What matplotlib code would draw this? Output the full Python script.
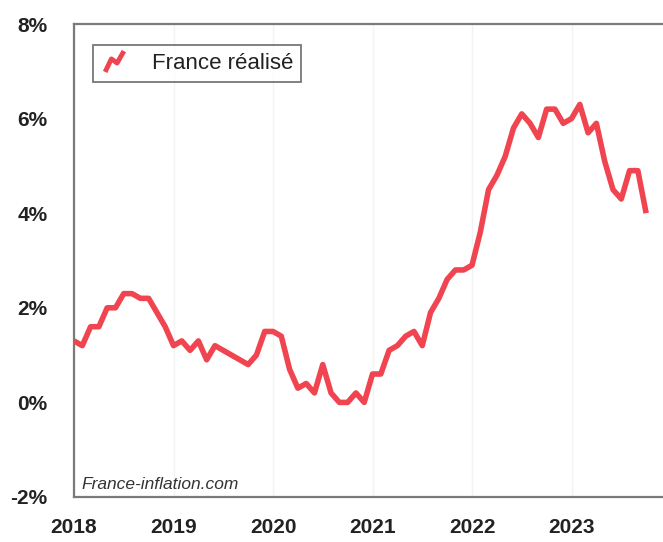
import numpy as np
import matplotlib
matplotlib.use("Agg")
import matplotlib.pyplot as plt
from matplotlib.path import Path
from matplotlib.lines import Line2D

# monthly year-on-year inflation, France, Jan 2018 -> Oct 2023
infl_2018 = [1.3, 1.2, 1.6, 1.6, 2.0, 2.0, 2.3, 2.3, 2.2, 2.2, 1.9, 1.6]
infl_2019 = [1.2, 1.3, 1.1, 1.3, 0.9, 1.2, 1.1, 1.0, 0.9, 0.8, 1.0, 1.5]
infl_2020 = [1.5, 1.4, 0.7, 0.3, 0.4, 0.2, 0.8, 0.2, 0.0, 0.0, 0.2, 0.0]
infl_2021 = [0.6, 0.6, 1.1, 1.2, 1.4, 1.5, 1.2, 1.9, 2.2, 2.6, 2.8, 2.8]
infl_2022 = [2.9, 3.6, 4.5, 4.8, 5.2, 5.8, 6.1, 5.9, 5.6, 6.2, 6.2, 5.9]
infl_2023 = [6.0, 6.3, 5.7, 5.9, 5.1, 4.5, 4.3, 4.9, 4.9, 4.0]

values = infl_2018 + infl_2019 + infl_2020 + infl_2021 + infl_2022 + infl_2023
dates = 2018 + np.arange(len(values)) / 12.0

years = [2018, 2019, 2020, 2021, 2022, 2023]
yticks = [-2, 0, 2, 4, 6, 8]

red = "#f04550"

fig = plt.figure(figsize=(6.63, 5.42), dpi=100)
ax = fig.add_axes([74 / 663, 45 / 542, 600 / 663, 473 / 542])

ax.plot(dates, values, color=red, lw=4.0, solid_joinstyle="round",
        solid_capstyle="butt", zorder=3)

ax.set_xlim(2018, 2024.03)
ax.set_ylim(-2, 8)
ax.set_xticks(years)
ax.set_xticklabels([str(y) for y in years])
ax.set_yticks(yticks)
ax.set_yticklabels([f"{v}%" for v in yticks])

for lab in ax.get_xticklabels() + ax.get_yticklabels():
    lab.set_fontfamily("Liberation Sans")
    lab.set_fontweight("bold")
    lab.set_fontsize(15)
    lab.set_color("#222222")

ax.tick_params(axis="both", length=0)
ax.tick_params(axis="x", pad=15)
ax.tick_params(axis="y", pad=19)

ax.grid(axis="x", color="#f3f3f3", lw=1)
ax.set_axisbelow(True)

for side in ["left", "top", "bottom"]:
    ax.spines[side].set_color("#7a7a7a")
    ax.spines[side].set_linewidth(1.6)
ax.spines["right"].set_visible(False)

# slanted "N" glyph for the legend entry
zig = Path([(-0.9, -1.0), (-0.3, 0.25), (0.25, -0.15), (0.9, 1.0)])
proxy = Line2D([], [], linestyle="none", marker=zig, markersize=15,
               markeredgewidth=3.5, markeredgecolor=red, markerfacecolor="none")
leg = ax.legend([proxy], ["France réalisé"], loc="upper left",
                bbox_to_anchor=(0.032, 0.955), frameon=True, fancybox=False,
                handlelength=1.2, handletextpad=1.1, borderpad=0.35,
                borderaxespad=0.0,
                prop={"family": "Liberation Sans", "size": 16})
leg.get_frame().set_edgecolor("#555555")
leg.get_frame().set_linewidth(1.3)
for t in leg.get_texts():
    t.set_color("#222222")

ax.text(0.012, 0.01, "France-inflation.com", transform=ax.transAxes,
        fontfamily="Liberation Sans", fontstyle="italic", fontsize=12.5,
        color="#333333", ha="left", va="bottom")

fig.savefig("out.png", dpi=100)
